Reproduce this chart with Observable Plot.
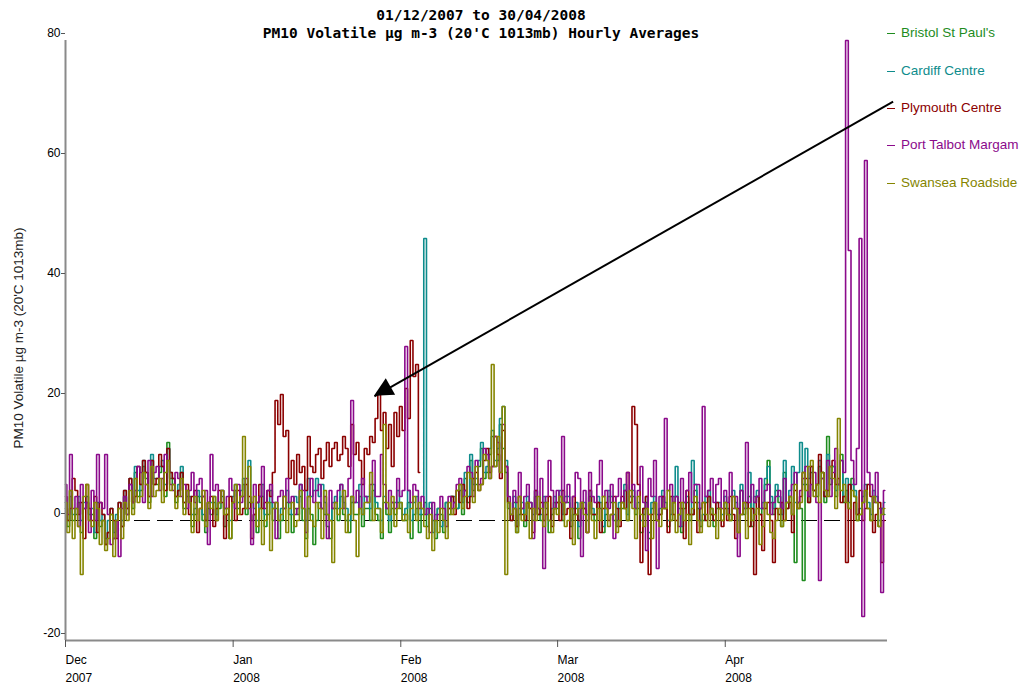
<!DOCTYPE html>
<html><head><meta charset="utf-8">
<script src="https://cdn.jsdelivr.net/npm/d3@7"></script>
<script src="https://cdn.jsdelivr.net/npm/@observablehq/plot@0.6"></script>
<style>
body{margin:0;background:#fff}
#wrap{position:relative;width:1028px;height:687px;font-family:"Liberation Sans",Arial,sans-serif}
#title{position:absolute;left:0;top:6px;width:962px;text-align:center;font:bold 14.5px/18px "DejaVu Sans Mono",monospace;color:#000}
.leg{position:absolute;left:887px;font-size:13.5px;white-space:nowrap;line-height:15px}
.leg .sw{display:inline-block;width:8px;height:0;border-top:1.5px solid;vertical-align:middle;margin-right:6px}
#ylab{position:absolute;left:18px;top:338px;transform:translate(-50%,-50%) rotate(-90deg);white-space:nowrap;font-size:13.5px;color:#222}
</style></head>
<body>
<div id="wrap">
<div id="title"></div>
<div id="ylab"></div>
</div>
<script>
// ---------- texts ----------
const titleLines = ["01/12/2007 to 30/04/2008", "PM10 Volatile µg m-3 (20'C 1013mb) Hourly Averages"];
const yLabel = "PM10 Volatile µg m-3 (20'C 1013mb)";
const seriesNames = ["Bristol St Paul's", "Cardiff Centre", "Plymouth Centre", "Port Talbot Margam", "Swansea Roadside"];
const seriesColors = ["#1e8c1e", "#0e8c8c", "#8b0000", "#8b0a8b", "#858500"];

// ---------- axes ----------
const startDate = new Date(Date.UTC(2007, 11, 1));
const endDate = new Date(Date.UTC(2008, 4, 1));
const monthTicks = [Date.UTC(2007, 11, 1), Date.UTC(2008, 0, 1), Date.UTC(2008, 1, 1), Date.UTC(2008, 2, 1), Date.UTC(2008, 3, 1)].map(t => new Date(t));
const monthLabels = ["Dec", "Jan", "Feb", "Mar", "Apr"];
const yearLabels = ["2007", "2008", "2008", "2008", "2008"];
const yTicks = [-20, 0, 20, 40, 60, 80];
const stepHours = 12; // values below are read every 12 hours from 01/12/2007 00:00

// ---------- series (2 per day) ----------
const bristol = [
 2,-1, 4,0, 1,3, -2,2, 3,0, 1,-3, 2,-1, 0,-4, -2,1, -3,0,
 2,-1, 4,1, 6,2, 8,4, 5,9, 7,3, 10,6, 6,8, 9,4, 13,7,
 6,3, 5,8, 2,4, 3,-1, 1,4, 3,0, -2,2, 1,3, 0,2, 4,-1,
 1,-3,
 3,5, 2,4, 6,1, 3,0, 1,-2, 2,4, -1,1, 3,0, 2,-3, 0,2,
 3,1, -2,2, 1,4, 0,-3, 2,1, -4,0, 3,2, 1,-1, -3,2, 2,0,
 4,1, 0,-2, 3,1, 1,4, -1,2, 2,0, 5,1, 0,-3, 3,1, -2,2,
 1,3,
 2,0, 0,3, -3,1, 2,-2, 1,3, -1,2, 0,-3, 2,1, -2,3, 1,4,
 3,2, 5,1, 7,3, 10,5, 6,9, 12,7, 8,11, 14,9, 10,16, 12,8,
 2,0, 3,-2, 1,2, -1,3, 2,0, 4,1, 0,3, 2,-2, 1,3,
 2,4, 0,3, 3,-1, 1,2, -3,2, 2,0, 4,1, 0,3, 2,-2, 1,4,
 3,0, -1,2, 2,5, 0,3, 4,1, 2,-2, 1,3, -3,2, 3,0, 1,4,
 2,-1, 0,3, 4,1, -2,2, 3,0, 1,5, 2,-1, 0,3, 4,1, -1,2,
 2,0,
 3,1, 0,4, 2,-2, 5,1, 2,4, -1,3, 4,1, 2,6, 10,3, 1,5,
 3,-1, 8,2, 4,1, -7,3, 2,-10, 6,3, 8,5, 4,9, 7,3, 14,6,
 9,4, 6,11, 3,5, 2,7, 4,0, 1,3, 5,2, 0,4, 3,-1, 2,1
];
const cardiff = [
 3,0, 5,1, 2,4, 0,3, 4,1, 2,-2, 3,0, 1,-3, 0,2, -2,1,
 3,0, 5,2, 7,3, 9,5, 6,10, 8,4, 11,7, 7,9, 10,6, 12,8,
 7,4, 6,9, 3,5, 4,1, 2,5, 4,1, 0,3, 3,4, 1,3, 5,2,
 2,0,
 4,6, 3,5, 7,2, 10,3, 2,0, 4,6, 1,3, 5,2, 3,0, 2,4,
 5,3, 1,4, 3,6, 2,0, 7,4, 5,7, 4,6, 3,1, 0,3, 4,2,
 6,3, 2,0, 4,3, 3,6, 1,4, 4,2, 6,3, 2,0, 4,2, 0,3,
 3,5,
 3,1, 2,5, 0,3, 4,1, 2,47, 1,3, -2,1, 2,-1, 0,3, 2,4,
 4,2, 6,3, 8,4, 11,6, 7,10, 13,8, 9,12, 15,10, 12,17, 19,10,
 3,1, 4,-1, 2,3, 0,4, 3,1, 5,2, 1,4, 3,0, 2,4,
 3,5, 1,4, 4,0, 2,3, -1,3, 3,1, 5,2, 1,4, 3,-1, 2,5,
 4,1, 0,3, 3,6, 1,4, 5,2, 3,0, 2,4, -2,3, 4,1, 2,5,
 3,0, 1,4, 9,2, -1,3, 4,1, 10,6, 3,0, 1,4, 5,2, 0,3,
 3,1,
 4,2, 1,5, 3,0, 6,2, 3,8, 0,4, 5,2, 3,7, 9,4, 2,6,
 4,1, 10,3, 5,9, 3,8, 13,6, 12,7, 9,5, 6,10, 8,4, 11,7,
 9,5, 6,10, 4,7, 3,6, 5,1, 2,4, 6,3, 1,5, 4,0, 2,3
];
const plymouth = [
 4,0, 2,7, 5,1, 3,-3, 6,2, 0,4, -2,3, 1,-4, -2,2, 0,-3,
 3,-1, 5,2, 7,3, 4,9, 6,10, 8,4, 10,6, 7,11, 9,5, 12,8,
 7,4, 5,8, 3,6, 1,4, 5,-2, 2,4, 0,3, 4,-1, 2,5, 3,-3,
 1,4,
 3,0, 5,1, 2,6, 4,-3, 1,3, 6,2, 3,5, 4,8, 20,16, 21,14,
 15,7, 10,6, 11,8, 9,5, 14,9, 8,11, 12,7, 10,13, 9,12, 13,10,
 11,14, 12,9, 16,11, 13,10, 6,12, 11,14, 13,17, 21,15, 18,12, 16,9,
 18,14,
 19,15, 22,17, 30,24, 26,8, null,null, null,null, null,null, null,null, null,null, 2,4,
 1,5, 3,6, 5,2, 4,7, 8,5, 6,10, 12,8, 9,14, 11,7, 15,9,
 3,0, 2,-1, 4,1, 0,3, 2,-2, 5,1, 3,0, 1,4, -1,2,
 3,0, 5,1, 2,-3, 4,1, 0,3, 2,-2, 5,1, 1,3, -2,2, 3,0,
 1,4, 2,-1, 4,2, 8,3, 19,16, 6,-7, 2,4, -9,1, 3,0, 1,4,
 2,-2, 4,1, 0,3, 2,-3, 5,1, 1,3, -2,2, 3,0, 4,1, 0,3,
 2,-1,
 2,0, 4,1, -3,2, 1,3, 3,-1, 2,-9, 4,1, -5,2, 3,0, -7,2,
 1,3, 0,2, 3,-2, 5,2, 4,8, 7,3, 9,5, 6,11, 8,4, 5,9,
 10,6, 7,3, 4,-7, 6,-6, 3,1, 5,0, 2,6, 4,-2, 1,3, -7,0
];
const portTalbot = [
 6,1, 11,2, 4,-1, 6,2, 3,-2, 5,0, 11,3, 2,11, 1,-4, -3,0,
 -6,2, 4,1, 6,3, 5,9, 8,3, 6,10, 4,8, 9,5, 7,11, 10,6,
 5,8, 7,4, 6,2, 5,8, 3,6, 7,4, 5,-4, 11,5, 6,3, 5,2,
 4,7,
 5,2, 6,3, 4,7, 2,-4, 6,3, 4,9, 2,5, 6,3, -3,4, 5,2,
 7,3, 4,1, 2,6, 5,-2, 4,7, 3,5, 6,2, 4,-3, 5,2, 3,5,
 6,2, 4,7, 20,3, 5,2, 7,4, 3,6, 10,4, 4,11, 6,2, 5,3,
 2,7,
 4,5, 29,5, 3,6, 5,2, 4,1, 2,-2, 3,0, 1,4, 2,-1, 4,2,
 3,6, 7,4, 5,9, 8,4, 10,6, 7,12, 11,7, 9,14, 13,8, 16,9,
 4,1, 5,3, 8,2, 4,6, 3,-3, 12,2, 7,-8, 4,10, 5,2,
 5,3, 14,3, 6,2, 4,8, 7,-6, 5,-2, 8,4, 3,6, 10,4, 5,2,
 6,-3, 4,7, 3,5, 8,4, 6,2, 5,9, 3,-5, 7,4, 10,-8, 4,2,
 17,5, 6,3, 4,-1, 7,3, 5,8, 3,6, 6,2, 19,4, 5,7, 3,6,
 7,2,
 5,3, 8,2, 4,-6, 5,2, 13,3, 6,3, 4,7, 2,5, 6,1, 3,4,
 5,2, 7,3, 4,6, 8,3, 5,7, 9,4, 6,8, 3,-10, 7,5, 10,4,
 8,12, 6,10, 8,80, 45,10, 6,12, 47,-16, 60,8, 6,3, 8,2, -12,5
];
const swansea = [
 3,-2, 5,-3, 2,-1, -9,4, 6,0, -1,3, 2,-4, 0,-5, -3,1, -6,0,
 2,-3, 3,0, 5,1, 7,3, 4,8, 6,2, 9,4, 5,7, 3,8, 10,5,
 6,2, 4,7, 1,5, 3,-2, 4,0, 2,5, -1,3, 2,4, 0,3, 5,1,
 2,-3,
 3,6, 1,4, 14,2, 9,3, 4,-1, 2,-4, 0,3, -5,2, 3,0, 1,4,
 -2,2, 3,-1, 0,5, 2,-6, 4,0, -1,3, 2,-3, 5,1, 0,-7, 3,1,
 2,5, -2,1, 4,0, -6,2, 1,3, 3,8, 0,2, 2,-2, 16,3, 1,4,
 -1,2,
 3,0, 1,-2, 2,4, 0,3, 2,-1, -3,1, -5,0, -2,2, 0,-3, 3,1,
 2,5, 6,2, 4,8, 7,3, 9,5, 6,11, 10,7, 26,9, 14,8, 19,-9,
 3,1, 2,-2, 4,0, 1,3, -3,2, 0,4, 2,-1, 3,0, -2,2,
 1,4, 3,-1, 0,2, -4,1, 2,3, 1,-2, 3,0, -3,2, 0,4, 2,-1,
 1,3, -2,0, 3,2, 0,5, 2,-3, 4,1, -1,2, 1,-3, 3,0, -1,2,
 2,5, 0,3, -2,1, 3,0, 1,-4, 2,4, 0,-2, 3,1, -1,2, 1,-3,
 2,0,
 3,1, 0,4, 2,-2, 1,3, -3,2, 0,1, 2,-4, -1,3, 1,-2, -3,0,
 2,-1, 0,3, 4,1, 6,2, 3,8, 5,9, 10,4, 6,3, 8,5, 4,9,
 7,2, 17,5, 6,3, 2,5, 4,0, 1,3, 5,2, 0,4, 3,-1, 1,2
];

// ---------- annotation arrow (data coordinates) ----------
const arrowFrom = {date: new Date(Date.UTC(2008, 4, 2, 1)), value: 69.8};
const arrowTo = {date: new Date(Date.UTC(2008, 0, 27, 3)), value: 20.7};

// ---------- build ----------
const allSeries = [bristol, cardiff, plymouth, portTalbot, swansea];
allSeries.forEach((s, k) => { if (s.length !== 304) console.error(seriesNames[k] + " length " + s.length); });
const rows = allSeries.map((vals, k) => vals.map((v, i) => ({
  series: seriesNames[k],
  date: new Date(+startDate + i * stepHours * 3600e3),
  value: v
})));

const fontAxis = '"Liberation Sans Narrow","Liberation Sans",Arial,sans-serif';

const chart = Plot.plot({
  width: 1028, height: 687,
  marginLeft: 65, marginRight: 141, marginTop: 40, marginBottom: 47,
  x: {type: "utc", domain: [startDate, endDate]},
  y: {domain: [-20, 80]},
  color: {domain: seriesNames, range: seriesColors},
  style: {fontFamily: fontAxis, fontSize: "12px", color: "#000", background: "transparent"},
  marks: [
    Plot.ruleY([0], {stroke: "#000", strokeDasharray: "16,7", strokeWidth: 1}),
    ...rows.map(r => Plot.line(r, {x: "date", y: "value", stroke: "series", strokeWidth: 1.6, strokeLinejoin: "miter", curve: "step"})),
    Plot.link([{a: arrowFrom, b: arrowTo}], {x1: d => d.a.date, y1: d => d.a.value, x2: d => d.b.date, y2: d => d.b.value, stroke: "#000", strokeWidth: 2}),
    Plot.ruleX([startDate], {stroke: "#8a8a8a", strokeWidth: 2}),
    Plot.ruleY([yTicks[0]], {stroke: "#8a8a8a", strokeWidth: 2}),
    Plot.axisY({ticks: yTicks, tickSize: 4, tickPadding: 1, dy: -7, label: null, stroke: "#555", fill: "#000", tickFormat: d => String(d)}),
    Plot.axisX({ticks: monthTicks, tickSize: 7, tickPadding: 3, textAnchor: "start", lineHeight: 1.55, label: null, stroke: "#555", fill: "#000",
      tickFormat: d => { const i = monthTicks.findIndex(t => +t === +d); return monthLabels[i] + "\n" + yearLabels[i]; }})
  ]
});

// filled arrow head, placed through the chart's own scales
const sx = chart.scale("x"), sy = chart.scale("y");
const tx = sx.apply(arrowTo.date), ty = sy.apply(arrowTo.value);
const fx = sx.apply(arrowFrom.date), fy = sy.apply(arrowFrom.value);
const len = Math.hypot(fx - tx, fy - ty), ux = (fx - tx) / len, uy = (fy - ty) / len;
const L = 19, W = 9.5, bx = tx + ux * L, by = ty + uy * L;
d3.select(chart).append("polygon")
  .attr("points", [[tx, ty], [bx - uy * W, by + ux * W], [bx + uy * W, by - ux * W]].map(p => p.join(",")).join(" "))
  .attr("fill", "#000");

const wrap = document.getElementById("wrap");
wrap.appendChild(chart);
chart.style.position = "absolute"; chart.style.left = "0"; chart.style.top = "0";

document.getElementById("title").innerHTML = titleLines.map(t => `<div>${t}</div>`).join("");
document.getElementById("ylab").textContent = yLabel;

const legendY = [33, 71, 108, 145, 183];
seriesNames.forEach((n, k) => {
  const d = document.createElement("div");
  d.className = "leg";
  d.style.top = (legendY[k] - 8) + "px";
  d.style.color = seriesColors[k];
  d.innerHTML = `<span class="sw" style="border-color:${seriesColors[k]}"></span>`;
  d.appendChild(document.createTextNode(n));
  wrap.appendChild(d);
});
// keep overlays above svg
["title", "ylab"].forEach(id => wrap.appendChild(document.getElementById(id)));
</script>
</body></html>
